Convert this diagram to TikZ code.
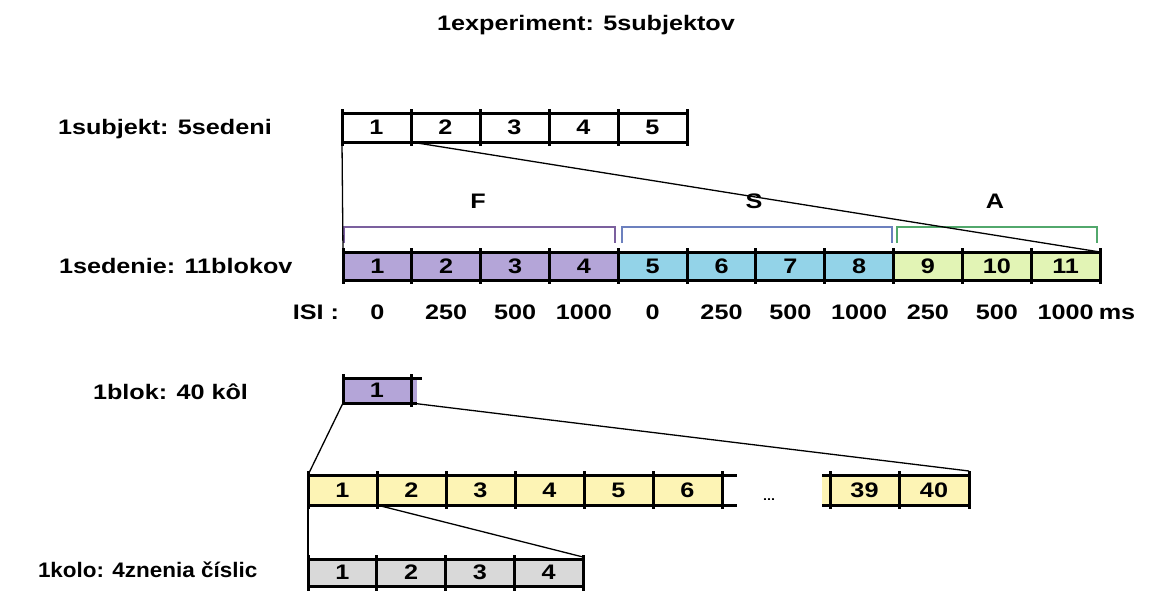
\documentclass[tikz,border=0pt]{standalone}
\usepackage{fontspec}
\setmainfont{Liberation Sans}[FakeStretch=1.2]
\newfontfamily\narrowlab{Liberation Sans}[FakeStretch=1.07]
\definecolor{pur}{HTML}{B4A5D8}
\definecolor{cya}{HTML}{93D3E8}
\definecolor{grn}{HTML}{E2F4B5}
\definecolor{yel}{HTML}{FDF4B5}
\definecolor{gry}{HTML}{D9D9D9}
\definecolor{fcol}{HTML}{7B609E}
\definecolor{scol}{HTML}{6C80BE}
\definecolor{acol}{HTML}{52A86C}
\begin{document}
\begin{tikzpicture}[x=1pt,y=-1pt,
  txt/.style={font=\bfseries\fontsize{21}{24}\selectfont, inner sep=0pt, outer sep=0pt},
  lab/.style={txt, anchor=base west},
  cell/.style={txt, rectangle, minimum width=69pt, minimum height=28pt},
  bar/.style={line width=3pt},
  tickmark/.style={line width=3pt},
  link/.style={line width=1.3pt},
  brack/.style={line width=2pt}]
\useasboundingbox (0,0) rectangle (1152,590);

% title and row labels
\node[txt, anchor=base] (title) at (586,30) {1experiment: 5subjektov};
\node[lab] (lsub) at (58,134.5) {1subjekt: 5sedeni};
\node[lab] (lsed) at (59,273) {1sedenie: 11blokov};
\node[lab] (lblk) at (93,399.5) {1blok: 40 kôl};
\node[lab, font=\narrowlab\bfseries\fontsize{21}{24}\selectfont] (lkol) at (38,577.5) {1kolo: 4znenia číslic};

% row 1
\foreach \i in {1,...,5}
  \node[cell, minimum width=69pt, minimum height=29pt, fill=white] (r1c\i) at ({342+69*(\i-0.5)},127.5) {\i};
\draw[bar] (r1c1.north west) -- (r1c5.north east);
\draw[bar] (r1c1.south west) -- (r1c5.south east);
\foreach \i in {1,...,5}
  \draw[tickmark] ([yshift=4pt]r1c\i.north west) -- ([yshift=-4pt]r1c\i.south west);
\draw[tickmark] ([yshift=4pt]r1c5.north east) -- ([yshift=-4pt]r1c5.south east);

% row 2
\foreach \i in {1,...,4}
  \node[cell, minimum width=68.82pt, fill=pur] (r2c\i) at ({343+68.82*(\i-0.5)},266) {\i};
\foreach \i in {5,...,8}
  \node[cell, minimum width=68.82pt, fill=cya] (r2c\i) at ({343+68.82*(\i-0.5)},266) {\i};
\foreach \i in {9,...,11}
  \node[cell, minimum width=68.82pt, fill=grn] (r2c\i) at ({343+68.82*(\i-0.5)},266) {\i};
\draw[bar] (r2c1.north west) -- (r2c11.north east);
\draw[bar] (r2c1.south west) -- (r2c11.south east);
\foreach \i in {1,...,11}
  \draw[tickmark] ([yshift=4pt]r2c\i.north west) -- ([yshift=-4pt]r2c\i.south west);
\draw[tickmark] ([yshift=4pt]r2c11.north east) -- ([yshift=-4pt]r2c11.south east);

% brackets and group labels
\draw[brack, fcol] ([xshift=1pt,yshift=9pt]r2c1.north west) -- ++(0,-16) -| ([xshift=-3pt,yshift=9pt]r2c4.north east);
\draw[brack, scol] ([xshift=4pt,yshift=9pt]r2c5.north west) -- ++(0,-16) -| ([xshift=-2pt,yshift=9pt]r2c8.north east);
\draw[brack, acol] ([xshift=3pt,yshift=9pt]r2c9.north west) -- ++(0,-16) -| ([xshift=-3pt,yshift=9pt]r2c11.north east);
\node[txt, anchor=base] (gF) at (478,208) {F};
\node[txt, anchor=base] (gS) at (754,208) {S};
\node[txt, anchor=base] (gA) at (995,208) {A};

% ISI row
\node[txt, anchor=base] (isi) at (316,319) {ISI :};
\foreach \i/\v in {1/0,2/250,3/500,4/1000,5/0,6/250,7/500,8/1000,9/250,10/500,11/1000}
  \node[txt, anchor=base] (isi\i) at ({343+68.82*(\i-0.5)},319) {\v};
\node[txt, anchor=base] (ms) at (1117,319) {ms};

% connectors row1 -> row2
\draw[link] (r1c1.south west) -- (r2c1.north west);
\draw[link] (r1c2.south west) -- (r2c11.north east);

% row 3
\node[cell, minimum width=68pt, minimum height=25pt, fill=pur] (r3c1) at (377,390.5) {1};
\fill[pur] (r3c1.north east) rectangle ([xshift=6pt]r3c1.south east);
\draw[bar] (r3c1.north west) -- ([xshift=11pt]r3c1.north east);
\draw[bar] (r3c1.south west) -- ([xshift=6pt]r3c1.south east);
\draw[tickmark] ([yshift=4pt]r3c1.north west) -- ([yshift=-1pt]r3c1.south west);
\draw[tickmark] ([yshift=4pt]r3c1.north east) -- ([yshift=-4pt]r3c1.south east);

% row 4
\foreach \i in {1,...,6}
  \node[cell, minimum width=69pt, minimum height=30pt, fill=yel] (r4c\i) at ({308+69*(\i-0.5)},490) {\i};
\node[cell, minimum width=69pt, minimum height=30pt, fill=yel] (r4c39) at (864.5,490) {39};
\node[cell, minimum width=70pt, minimum height=30pt, fill=yel] (r4c40) at (934,490) {40};
\fill[yel] ([xshift=-8pt]r4c39.north west) rectangle (r4c39.south west);
\draw[bar] (r4c1.north west) -- ([xshift=15pt]r4c6.north east);
\draw[bar] (r4c1.south west) -- ([xshift=15pt]r4c6.south east);
\draw[bar] ([xshift=-8pt]r4c39.north west) -- (r4c40.north east);
\draw[bar] ([xshift=-8pt]r4c39.south west) -- (r4c40.south east);
\foreach \i in {1,...,6,39,40}
  \draw[tickmark] ([yshift=4pt]r4c\i.north west) -- ([yshift=-4pt]r4c\i.south west);
\draw[tickmark] ([yshift=4pt]r4c6.north east) -- ([yshift=-4pt]r4c6.south east);
\draw[tickmark] ([yshift=4pt]r4c40.north east) -- ([yshift=-4pt]r4c40.south east);
\node[font=\bfseries\fontsize{12}{14}\selectfont, inner sep=0pt] (dots) at (769,500) {...};

% connectors row3 -> row4
\draw[link] (r3c1.south west) -- (r4c1.north west);
\draw[link] (r3c1.south east) -- ([yshift=4pt]r4c40.north east);

% row 5
\foreach \i in {1,...,4}
  \node[cell, minimum width=68.75pt, minimum height=27pt, fill=gry] (r5c\i) at ({308+68.75*(\i-0.5)},572.5) {\i};
\draw[bar] (r5c1.north west) -- (r5c4.north east);
\draw[bar] (r5c1.south west) -- (r5c4.south east);
\foreach \i in {1,...,4}
  \draw[tickmark] ([yshift=4pt]r5c\i.north west) -- ([yshift=-6pt]r5c\i.south west);
\draw[tickmark] ([yshift=4pt]r5c4.north east) -- ([yshift=-6pt]r5c4.south east);

% connectors row4 -> row5
\draw[link] (r4c1.south west) -- (r5c1.north west);
\draw[link] (r4c2.south west) -- ([yshift=2pt]r5c4.north east);
\end{tikzpicture}
\end{document}
